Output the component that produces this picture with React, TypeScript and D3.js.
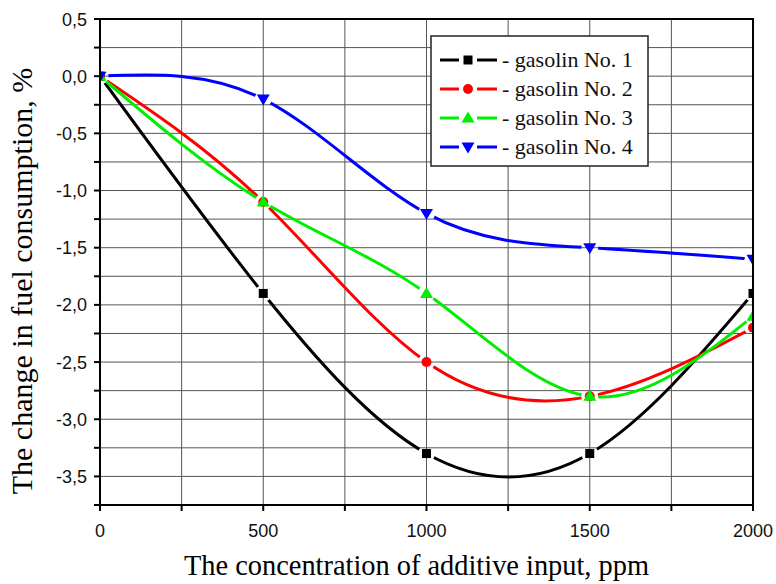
import React from "react";
import * as d3 from "d3";

const concentrations = [0, 500, 1000, 1500, 2000];
const gasolin1 = [0, -1.9, -3.3, -3.3, -1.9];
const gasolin2 = [0, -1.1, -2.5, -2.8, -2.2];
const gasolin3 = [0, -1.1, -1.9, -2.8, -2.1];
const gasolin4 = [0, -0.2, -1.2, -1.5, -1.6];
const seriesNames = ["- gasolin No. 1", "- gasolin No. 2", "- gasolin No. 3", "- gasolin No. 4"];
const seriesColors = ["#000000", "#ff0000", "#00ee00", "#0000ff"];
const seriesMarkers = ["square", "circle", "triUp", "triDown"];
const yLabelTicks = [0.5, 0, -0.5, -1.0, -1.5, -2.0, -2.5, -3.0, -3.5];
const xLabelTicks = [0, 500, 1000, 1500, 2000];

const W = 776, H = 584;
const L = 100, R = 753, T = 19, B = 505;

function markerPath(kind: string): string {
  switch (kind) {
    case "square": return "M-4.5,-4.5H4.5V4.5H-4.5Z";
    case "circle": return d3.symbol().type(d3.symbolCircle).size(Math.PI * 25)() as string;
    case "triUp": return "M0,-6.5L6.5,4.5L-6.5,4.5Z";
    case "triDown": return "M0,6.5L6.5,-4.5L-6.5,-4.5Z";
  }
  return "";
}

export default function App() {
  const x = d3.scaleLinear().domain([0, 2000]).range([L, R]);
  const y = d3.scaleLinear().domain([-3.75, 0.5]).range([B, T]);
  const allSeries = [gasolin1, gasolin2, gasolin3, gasolin4];
  const line = d3.line<[number, number]>()
    .x(d => x(d[0]))
    .y(d => y(d[1]))
    .curve(d3.curveNatural);
  const fmt = (v: number) => d3.format(".1f")(v).replace("−", "-").replace(".", ",");
  const xGrid = d3.range(250, 2000, 250);
  const yGrid = d3.range(-3.5, 0.5, 0.25);
  const yTicks = d3.range(-3.75, 0.51, 0.25);
  const xTicks = d3.range(0, 2001, 250);
  const serif = "'Liberation Serif', 'Times New Roman', serif";
  const sans = "'Liberation Sans', Arial, sans-serif";

  const legX = 431, legY = 36, legW = 217, legH = 130;
  const rowY = [60, 89, 118, 147];

  return (
    <svg width={W} height={H} style={{ position: "absolute", left: 0, top: 0, background: "#fff" }}>
      <defs>
        <clipPath id="plotClip">
          <rect x={L} y={T} width={R - L} height={B - T} />
        </clipPath>
        {allSeries.map((s, i) => (
          <mask id={`gap${i}`} key={i} maskUnits="userSpaceOnUse" x={0} y={0} width={W} height={H}>
            <rect x={0} y={0} width={W} height={H} fill="#fff" />
            {s.map((v, j) => (
              <circle key={j} cx={x(concentrations[j])} cy={y(v)} r={8.5} fill="#000" />
            ))}
          </mask>
        ))}
      </defs>
      <rect x={0} y={0} width={W} height={H} fill="#fff" />
      {/* grid */}
      {xGrid.map(v => (
        <line key={"gx" + v} x1={x(v)} x2={x(v)} y1={T} y2={B} stroke="#555" strokeWidth={1} />
      ))}
      {yGrid.map(v => (
        <line key={"gy" + v} x1={L} x2={R} y1={y(v)} y2={y(v)} stroke="#555" strokeWidth={1} />
      ))}
      {/* ticks */}
      {yTicks.map(v => (
        <line key={"ty" + v} x1={L - 6} x2={L} y1={y(v)} y2={y(v)} stroke="#000" strokeWidth={2} />
      ))}
      {xTicks.map(v => (
        <line key={"tx" + v} x1={x(v)} x2={x(v)} y1={B} y2={B + 6} stroke="#000" strokeWidth={2} />
      ))}
      {/* series */}
      <g clipPath="url(#plotClip)">
        {allSeries.map((s, i) => (
          <path key={"l" + i}
            d={line(s.map((v, j) => [concentrations[j], v] as [number, number])) as string}
            fill="none" stroke={seriesColors[i]} strokeWidth={3} mask={`url(#gap${i})`} />
        ))}
        {allSeries.map((s, i) => (
          <g key={"m" + i}>
            {s.map((v, j) => (
              <path key={j} d={markerPath(seriesMarkers[i])}
                transform={`translate(${x(concentrations[j])},${y(v)})`} fill={seriesColors[i]} />
            ))}
          </g>
        ))}
      </g>
      {/* frame */}
      <rect x={L} y={T} width={R - L} height={B - T} fill="none" stroke="#000" strokeWidth={2} />
      {/* tick labels */}
      {yLabelTicks.map(v => (
        <text key={"ly" + v} x={L - 13} y={y(v) + 6.5} textAnchor="end" fontFamily={sans} fontSize={18} fill="#111">
          {fmt(v)}
        </text>
      ))}
      {xLabelTicks.map(v => (
        <text key={"lx" + v} x={x(v)} y={537} textAnchor="middle" fontFamily={sans} fontSize={18} fill="#111">
          {v}
        </text>
      ))}
      {/* axis titles */}
      <text x={416.5} y={575} textAnchor="middle" fontFamily={serif} fontSize={30} fill="#000"
        textLength={465} lengthAdjust="spacingAndGlyphs">
        The concentration of additive input, ppm
      </text>
      <text transform="translate(32,281) rotate(-90)" textAnchor="middle" fontFamily={serif} fontSize={30} fill="#000">
        The change in fuel consumption, %
      </text>
      {/* legend */}
      <rect x={legX} y={legY} width={legW} height={legH} fill="#fff" stroke="#222" strokeWidth={1.5} />
      {seriesNames.map((name, i) => (
        <g key={"leg" + i}>
          <line x1={440} x2={459} y1={rowY[i]} y2={rowY[i]} stroke={seriesColors[i]} strokeWidth={3} />
          <line x1={477} x2={497} y1={rowY[i]} y2={rowY[i]} stroke={seriesColors[i]} strokeWidth={3} />
          <path d={markerPath(seriesMarkers[i])} transform={`translate(468,${rowY[i]})`} fill={seriesColors[i]} />
          <text x={502} y={rowY[i] + 7} fontFamily={serif} fontSize={22} fill="#111">{name}</text>
        </g>
      ))}
    </svg>
  );
}
